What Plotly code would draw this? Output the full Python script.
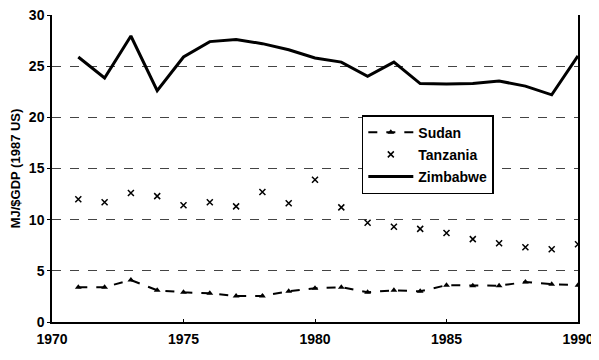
import plotly.graph_objects as go

years = list(range(1971, 1991))
sudan = [3.4, 3.4, 4.1, 3.1, 2.9, 2.8, 2.55, 2.55, 3.0, 3.3,
         3.4, 2.9, 3.1, 3.0, 3.6, 3.55, 3.55, 3.9, 3.7, 3.6]
tanzania = [12.0, 11.7, 12.6, 12.3, 11.4, 11.7, 11.3, 12.7, 11.6, 13.9,
            11.2, 9.7, 9.3, 9.1, 8.7, 8.1, 7.7, 7.3, 7.1, 7.6]
zimbabwe = [25.9, 23.85, 27.95, 22.6, 25.9, 27.4, 27.6, 27.2, 26.6, 25.8,
            25.4, 24.0, 25.4, 23.3, 23.25, 23.3, 23.55, 23.05, 22.2, 26.0]

x_ticks = [1970, 1975, 1980, 1985, 1990]
y_ticks = [0, 5, 10, 15, 20, 25, 30]

FF = "Liberation Sans, Arial, sans-serif"
font = dict(family=FF, size=14, color="black")

fig = go.Figure()
fig.add_trace(go.Scatter(
    x=years, y=sudan, name="<b>Sudan</b>", mode="lines+markers", legendgroup="a",
    line=dict(color="black", width=2, dash="dash"),
    marker=dict(symbol="triangle-up", size=6, color="black"),
))
fig.add_trace(go.Scatter(
    x=years, y=tanzania, name="<b>Tanzania</b>", mode="markers", legendgroup="b",
    marker=dict(symbol="x-thin", size=6, color="black",
                line=dict(color="black", width=1.5)),
))
fig.add_trace(go.Scatter(
    x=years, y=zimbabwe, name="<b>Zimbabwe</b>", mode="lines", legendgroup="c",
    line=dict(color="black", width=3),
))

# the page body adds an 8px margin; size the figure to end at the window edge
fig.update_layout(
    width=591, height=344,
    margin=dict(l=44, r=21, t=7, b=30),
    paper_bgcolor="white", plot_bgcolor="white",
    font=font,
    showlegend=True,
    legend=dict(
        x=0.589, y=0.674, xanchor="left", yanchor="top",
        bordercolor="black", borderwidth=1.5, bgcolor="white",
        font=dict(family=FF, size=14, color="black"),
        tracegroupgap=1, itemwidth=45,
    ),
    xaxis=dict(
        range=[1970, 1990], tickvals=x_ticks,
        ticktext=[f"<b>{v}</b>" for v in x_ticks],
        showline=True, linecolor="black", linewidth=1.5, mirror=False,
        ticks="inside", ticklen=3, tickcolor="black",
        showgrid=False, zeroline=False, ticklabelstandoff=3,
        ticklabeloverflow="allow", automargin=False,
        tickfont=dict(family=FF, size=14, color="black"),
    ),
    yaxis=dict(
        range=[0, 30], tickvals=y_ticks,
        ticktext=[f"<b>{v}</b>" for v in y_ticks],
        showline=True, linecolor="black", linewidth=1.5, mirror=True,
        ticks="outside", ticklen=3, tickcolor="black",
        showgrid=True, gridcolor="#444444", gridwidth=1, griddash="dash",
        zeroline=False, ticklabeloverflow="allow", automargin=False,
        title=dict(text="<b>MJ/$GDP (1987 US)</b>", standoff=6,
                   font=dict(family=FF, size=13, color="black")),
        tickfont=dict(family=FF, size=14, color="black"),
    ),
)

fig.write_html("out.html")
